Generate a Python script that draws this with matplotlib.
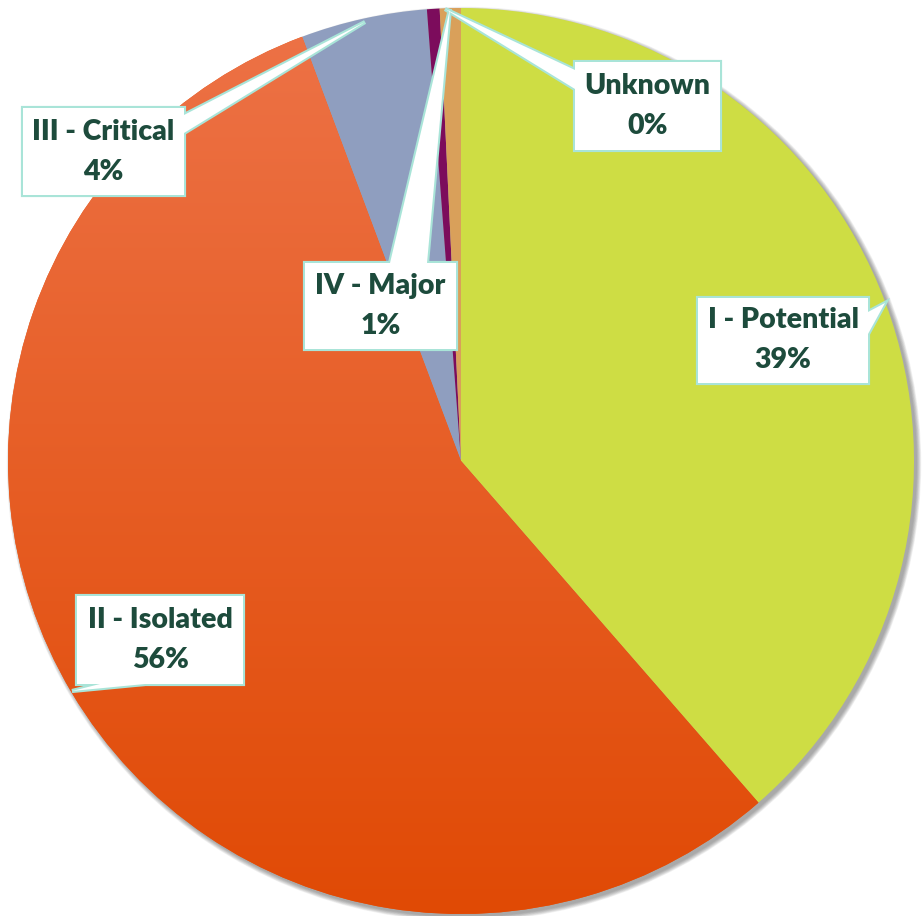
import numpy as np
import matplotlib.pyplot as plt
from matplotlib.patches import Circle, Polygon, Rectangle

# slice data, clockwise from 12 o'clock
categories = ['I - Potential', 'II - Isolated', 'III - Critical', 'IV - Major', 'Unknown']
shares = [38.6, 55.7, 4.5, 0.45, 0.75]
shown_pct = ['39%', '56%', '4%', '1%', '0%']
colors = ['#CEDD44', '#EA5A14', '#8F9EBF', '#7C0C5C', '#D9A05A']

W, H = 922, 916
CX, CY, R = 461, 461, 453

text_color = '#1D4B3C'
box_edge = '#A9E4D8'


def py(y):
    # pixel row (from top) -> data y
    return H - y


# callouts: box (x0, y0, x1, y1) in pixels, wedge base points and tip
callouts = {
    'I - Potential': dict(box=(698, 298, 868, 383), base=[(868, 312), (868, 334)], tip=(885, 303)),
    'II - Isolated': dict(box=(77, 596, 243, 684), base=[(100, 684), (145, 684)], tip=(72, 691)),
    'III - Critical': dict(box=(23, 108, 184, 195), base=[(184, 115), (184, 133)], tip=(365, 22)),
    'IV - Major': dict(box=(305, 263, 456, 349), base=[(390, 263), (427, 263)], tip=(450, 9)),
    'Unknown': dict(box=(575, 62, 720, 150), base=[(575, 70), (575, 89)], tip=(445, 9)),
}


def main():
    fig = plt.figure(figsize=(W / 100, H / 100), dpi=100)
    ax = fig.add_axes([0, 0, 1, 1])

    # soft drop shadow
    for i in range(8):
        ax.add_patch(Circle((CX + 3, py(CY + 3)), R + 0.6 * i, color='#444444',
                            alpha=0.07, lw=0, zorder=0))

    wedges, _ = ax.pie(shares, colors=colors, startangle=90, counterclock=False,
                       center=(CX, py(CY)), radius=R,
                       wedgeprops=dict(linewidth=0, antialiased=True))

    # gradient on the orange slice (lighter at top)
    top = np.array([0.93, 0.45, 0.28])
    bottom = np.array([0.88, 0.29, 0.02])
    t = np.linspace(0, 1, 256)[:, None]
    grad = (top * (1 - t) + bottom * t)[:, None, :]
    im = ax.imshow(grad, extent=(CX - R, CX + R, py(CY + R), py(CY - R)),
                   aspect='auto', zorder=1.5, interpolation='bilinear')
    im.set_clip_path(wedges[1])

    # callout boxes: outline pass then white fill pass to merge box + pointer
    for name, pct in zip(categories, shown_pct):
        c = callouts[name]
        x0, y0, x1, y1 = c['box']
        tri = [(c['base'][0][0], py(c['base'][0][1])), (c['tip'][0], py(c['tip'][1])),
               (c['base'][1][0], py(c['base'][1][1]))]
        for fill, edge, lw, z in [('white', box_edge, 3.0, 3), ('white', 'none', 0, 4)]:
            ax.add_patch(Rectangle((x0, py(y1)), x1 - x0, y1 - y0, facecolor=fill,
                                   edgecolor=edge, lw=lw, zorder=z, joinstyle='miter'))
            ax.add_patch(Polygon(tri, closed=True, facecolor=fill, edgecolor=edge,
                                 lw=lw, zorder=z, joinstyle='miter'))
        xc = (x0 + x1) / 2
        ym = (y0 + y1) / 2
        for label, dy in [(name, -20), (pct, 20)]:
            ax.text(xc, py(ym + dy), label, ha='center', va='center', fontsize=20.5,
                    fontweight='heavy', family='Lato', color=text_color, zorder=5)

    ax.set_xlim(0, W)
    ax.set_ylim(0, H)
    ax.set_aspect('equal')
    ax.axis('off')
    fig.savefig('out.png', dpi=100)


if __name__ == "__main__":
    main()
